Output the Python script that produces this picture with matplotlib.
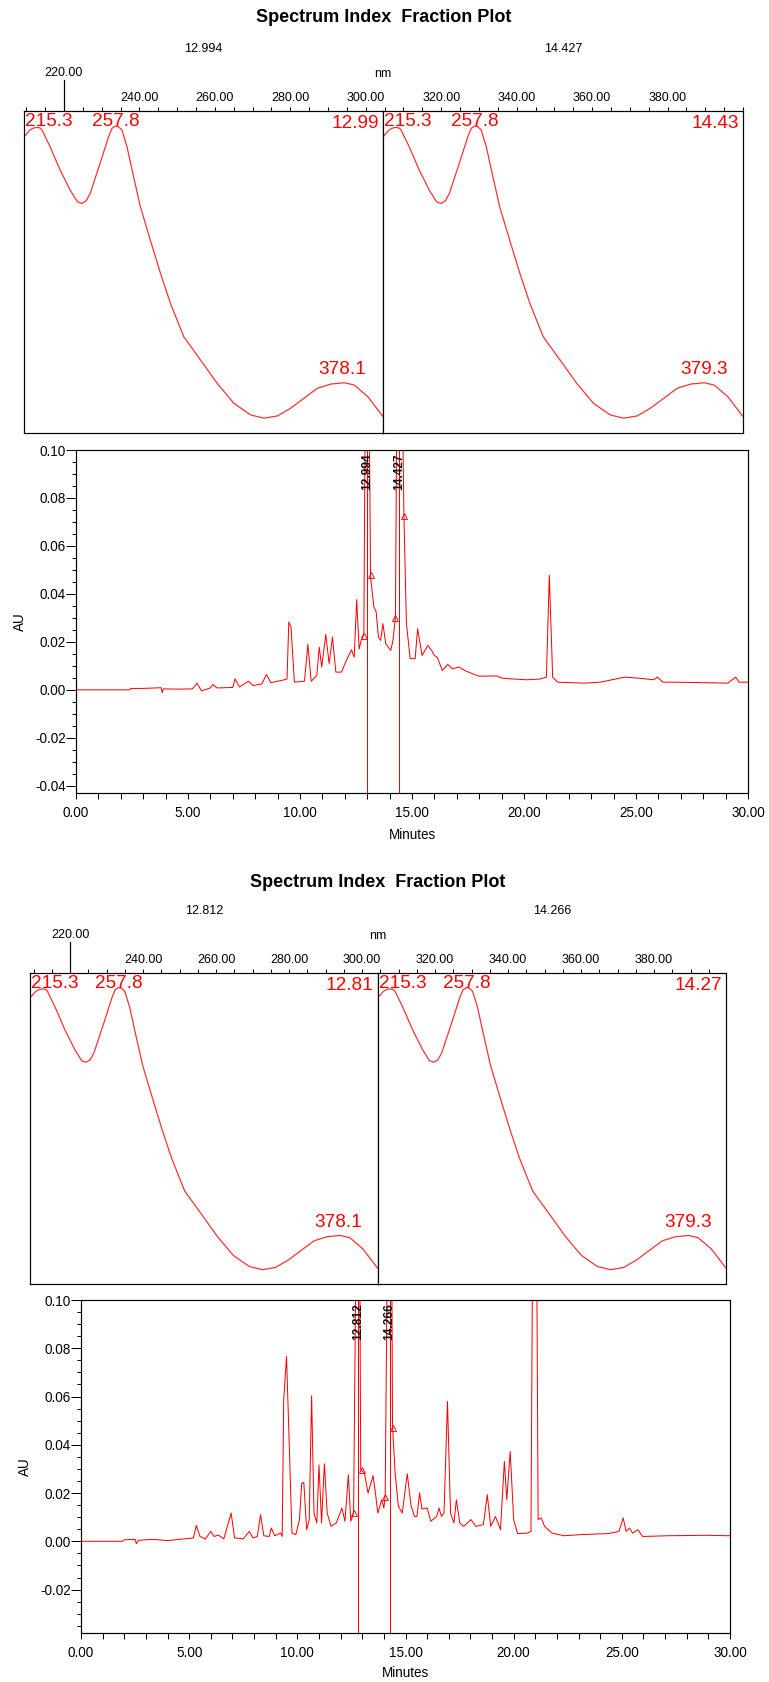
import numpy as np
import matplotlib
matplotlib.use('Agg')
import matplotlib.pyplot as plt
from matplotlib.ticker import MultipleLocator, FixedLocator, FormatStrFormatter

plt.rcParams['font.family'] = ['Liberation Sans', 'DejaVu Sans']
plt.rcParams['axes.unicode_minus'] = False

# UV spectrum shown in every spectrum panel (relative absorbance)
spec_nm = [209.0, 212.2, 214.0, 215.8, 217.2, 218.4, 222.9, 228.2, 233.5, 237.4,
           239.8, 242.1, 244.2, 249.5, 254.0, 255.8, 257.6, 259.3, 261.1, 263.8,
           267.3, 270.9, 276.2, 281.6, 286.9, 294.0, 302.9, 311.8, 320.7, 329.6,
           336.7, 343.8, 350.9, 358.0, 365.1, 372.3, 379.4, 384.7, 391.9, 400.0]
spec_abs = [0.920, 0.941, 0.947, 0.949, 0.948, 0.943, 0.889, 0.817, 0.755, 0.718,
            0.713, 0.721, 0.744, 0.838, 0.920, 0.946, 0.953, 0.951, 0.941, 0.889,
            0.796, 0.703, 0.599, 0.496, 0.403, 0.299, 0.227, 0.154, 0.092, 0.056,
            0.046, 0.053, 0.077, 0.108, 0.139, 0.152, 0.156, 0.149, 0.113, 0.051]

# block 1
frac1_times = [12.994, 14.427]
frac1_labels = ['12.994', '14.427']
frac1_short = ['12.99', '14.43']
peaks1 = [[215.3, 257.8, 378.1], [215.3, 257.8, 379.3]]
chrom1_t = [0.0, 2.4, 2.45, 3.0, 3.8, 3.85, 3.9, 4.5, 5.2, 5.4, 5.6, 6.0, 6.1, 6.3,
            7.0, 7.1, 7.3, 7.7, 7.9, 8.3, 8.5, 8.7, 9.3, 9.42, 9.5, 9.6, 9.75,
            10.2, 10.35, 10.5, 10.75, 10.86, 10.97, 11.15, 11.3, 11.45, 11.6,
            11.85, 12.07, 12.3, 12.42, 12.53, 12.64, 12.77, 12.85, 12.92, 13.0,
            13.08, 13.15, 13.3, 13.4, 13.5, 13.6, 13.7, 13.83, 14.05, 14.15,
            14.26, 14.33, 14.45, 14.56, 14.64, 14.75, 14.92, 15.14, 15.25, 15.45,
            15.7, 15.88, 16.0, 16.13, 16.35, 16.6, 16.8, 17.1, 17.35, 17.7, 18.0,
            18.8, 19.0, 19.4, 20.1, 20.7, 21.0, 21.13, 21.28, 21.5, 22.7, 23.4,
            24.5, 25.1, 25.8, 25.95, 26.2, 26.8, 29.1, 29.45, 29.6, 30.0]
chrom1_au = [0.0, 0.0, 0.0006, 0.0006, 0.0009, -0.0012, 0.0004, 0.0003, 0.0004,
             0.0028, -0.0004, 0.0008, 0.0022, 0.0008, 0.001, 0.0046, 0.0012,
             0.0036, 0.0018, 0.0025, 0.0064, 0.003, 0.0042, 0.0045, 0.0283, 0.026,
             0.0032, 0.0036, 0.019, 0.0036, 0.006, 0.0178, 0.0095, 0.0231, 0.011,
             0.022, 0.0074, 0.0074, 0.0123, 0.0167, 0.0136, 0.0376, 0.017, 0.022,
             0.0234, 0.13, 0.2, 0.13, 0.047, 0.0345, 0.0325, 0.022, 0.0206,
             0.0276, 0.0192, 0.0164, 0.0206, 0.0304, 0.13, 0.2, 0.13, 0.0724,
             0.0276, 0.013, 0.013, 0.0255, 0.0143, 0.0185, 0.0164, 0.0143, 0.0136,
             0.0081, 0.0106, 0.0088, 0.0095, 0.0081, 0.0067, 0.0057, 0.0058,
             0.0049, 0.0046, 0.0042, 0.0045, 0.0053, 0.0478, 0.0053, 0.0032,
             0.0028, 0.0032, 0.0053, 0.0049, 0.0042, 0.0053, 0.0032, 0.0032,
             0.0028, 0.0053, 0.0032, 0.0032]
marks1_t = [12.84, 13.17, 14.26, 14.64]
marks1_au = [0.0223, 0.048, 0.030, 0.0724]

# block 2
frac2_times = [12.812, 14.266]
frac2_labels = ['12.812', '14.266']
frac2_short = ['12.81', '14.27']
peaks2 = [[215.3, 257.8, 378.1], [215.3, 257.8, 379.3]]
chrom2_t = [0.0, 1.9, 2.0, 2.5, 2.56, 2.65, 3.3, 4.0, 5.2, 5.33, 5.5, 5.75, 6.0,
            6.15, 6.35, 6.6, 6.94, 7.1, 7.5, 7.78, 7.95, 8.15, 8.3, 8.45, 8.7,
            8.8, 8.95, 9.23, 9.3, 9.37, 9.5, 9.63, 9.75, 9.93, 10.1, 10.2, 10.3,
            10.43, 10.55, 10.66, 10.77, 10.9, 11.0, 11.12, 11.25, 11.38, 11.56,
            11.8, 12.06, 12.2, 12.36, 12.47, 12.6, 12.72, 12.8, 12.88, 12.93,
            13.1, 13.27, 13.5, 13.61, 13.72, 13.9, 14.0, 14.06, 14.17, 14.29,
            14.36, 14.4, 14.52, 14.67, 14.85, 15.08, 15.26, 15.42, 15.53, 15.65,
            15.76, 16.0, 16.17, 16.44, 16.55, 16.66, 16.78, 16.94, 17.08, 17.24,
            17.35, 17.51, 17.69, 18.03, 18.25, 18.6, 18.78, 18.94, 19.16, 19.39,
            19.57, 19.68, 19.84, 20.0, 20.18, 20.63, 20.8, 20.88, 20.96, 21.06,
            21.13, 21.27, 21.43, 21.77, 22.33, 23.13, 24.38, 24.87, 25.06, 25.2,
            25.35, 25.5, 25.74, 25.96, 27.1, 28.9, 30.0]
chrom2_au = [0.0, 0.0, 0.0006, 0.0008, -0.001, 0.0004, 0.0008, 0.0003, 0.0014,
             0.0066, 0.002, 0.001, 0.0041, 0.002, 0.0026, 0.001, 0.0117, 0.0014,
             0.001, 0.0041, 0.0014, 0.002, 0.011, 0.0023, 0.002, 0.0055, 0.0023,
             0.0034, 0.002, 0.0586, 0.0766, 0.039, 0.0034, 0.0028, 0.009, 0.024,
             0.0244, 0.0048, 0.009, 0.0603, 0.0117, 0.0076, 0.0317, 0.0076,
             0.0321, 0.0117, 0.0062, 0.0076, 0.0138, 0.0083, 0.0276, 0.0083,
             0.0117, 0.13, 0.2, 0.13, 0.0297, 0.0283, 0.020, 0.0272, 0.020,
             0.0117, 0.0172, 0.0138, 0.0186, 0.13, 0.2, 0.13, 0.0476, 0.0283,
             0.0145, 0.0117, 0.028, 0.0145, 0.0103, 0.0103, 0.020, 0.0134, 0.0138,
             0.0083, 0.0103, 0.0138, 0.0103, 0.0117, 0.058, 0.0117, 0.0076,
             0.0172, 0.0076, 0.0062, 0.009, 0.0062, 0.0069, 0.0193, 0.0062,
             0.0103, 0.0048, 0.0331, 0.0172, 0.0372, 0.009, 0.0032, 0.0034,
             0.0041, 0.13, 0.2, 0.13, 0.009, 0.0097, 0.0062, 0.0034, 0.0023,
             0.0028, 0.0032, 0.0041, 0.0097, 0.0041, 0.0055, 0.0034, 0.0048,
             0.002, 0.0023, 0.0025, 0.0023]
marks2_t = [12.63, 12.97, 14.06, 14.40]
marks2_au = [0.0117, 0.0297, 0.0183, 0.0469]

W, H = 769, 1682
fig = plt.figure(figsize=(W / 72, H / 72), dpi=72)


def add_box(x0, y0, x1, y1):
    # pixel box (top-left origin) -> figure axes
    return fig.add_axes([x0 / W, 1 - y1 / H, (x1 - x0) / W, (y1 - y0) / H])


def draw_block(lay, times, labels, short, peaks, t, au, mk_t, mk_au):
    left, mid, right, top, bot = lay['left'], lay['mid'], lay['right'], lay['top'], lay['bot']
    fig.text((left + right) / 2 / W, 1 - lay['title_y'] / H, 'Spectrum Index  Fraction Plot',
             ha='center', va='center', fontsize=18, fontweight='bold')

    # wavelength axis across both spectrum panels
    nm_ax = add_box(left, top, right, bot)
    nm_ax.set_xlim(lay['nm_lim'])
    nm_ax.set_ylim(0, 1)
    nm_ax.set_yticks([])
    for s in ['left', 'right', 'bottom']:
        nm_ax.spines[s].set_visible(False)
    nm_ax.xaxis.set_major_locator(FixedLocator(list(range(240, 381, 20))))
    nm_ax.xaxis.set_minor_locator(MultipleLocator(5))
    nm_ax.xaxis.set_major_formatter(FormatStrFormatter('%.2f'))
    nm_ax.tick_params(axis='x', which='both', top=True, labeltop=True, bottom=False,
                      labelbottom=False, direction='out', length=4, width=1, pad=3,
                      labelsize=12.5)
    h = bot - top
    trans = nm_ax.get_xaxis_transform()
    nm_ax.plot([220, 220], [1, 1 + 31 / h], transform=trans, clip_on=False, color='black', lw=1.2)
    nm_ax.text(220, 1 + 38 / h, '220.00', transform=trans, ha='center', va='center', fontsize=12.5)
    fig.text(mid / W, 1 - (top - 37) / H, 'nm', ha='center', va='center', fontsize=12.5)

    for i, (x0, x1) in enumerate([(left, mid), (mid, right)]):
        ax = add_box(x0, top, x1, bot)
        ax.plot(spec_nm, spec_abs, color='#ff2a2a', lw=1.2)
        ax.set_xlim(209, 400)
        ax.set_ylim(0, 1)
        ax.set_xticks([])
        ax.set_yticks([])
        for s in ax.spines.values():
            s.set_linewidth(1.2)
        fig.text((x0 + x1) / 2 / W, 1 - (top - 62) / H, labels[i], ha='center', va='center',
                 fontsize=12.5)
        p0, p1, p2 = peaks[i]
        ax.annotate(f'{p0}', xy=(0, 1), xycoords='axes fraction', xytext=(1, -2),
                    textcoords='offset points', ha='left', va='top', color='red', fontsize=19)
        ax.annotate(f'{p1}', xy=(p1, 1), xycoords=('data', 'axes fraction'), xytext=(0, -2),
                    textcoords='offset points', ha='center', va='top', color='red', fontsize=19)
        ax.annotate(f'{p2}', xy=(p2, np.interp(p2, spec_nm, spec_abs)), xytext=(0, 5),
                    textcoords='offset points', ha='center', va='bottom', color='red', fontsize=19)
        ax.annotate(short[i], xy=(1, 1), xycoords='axes fraction', xytext=(-4, -4),
                    textcoords='offset points', ha='right', va='top', color='red', fontsize=19)

    # chromatogram
    cax = add_box(lay['c_left'], lay['c_top'], lay['c_right'], lay['c_bot'])
    cax.plot(t, au, color='red', lw=1)
    cax.plot(mk_t, mk_au, linestyle='none', marker='^', markersize=6, mfc='none',
             mec='red', mew=0.9)
    for tt, lab in zip(times, labels):
        cax.axvline(tt, color='red', lw=1)
        cax.annotate(lab, xy=(tt, 1), xycoords=('data', 'axes fraction'), xytext=(0, -3),
                     textcoords='offset points', rotation=90, ha='center', va='top',
                     fontsize=12, fontweight='bold', color='#111111')
    cax.set_xlim(0, 30)
    cax.set_ylim(lay['c_ylo'], 0.10)
    cax.xaxis.set_major_locator(MultipleLocator(5))
    cax.xaxis.set_minor_locator(MultipleLocator(1))
    cax.yaxis.set_major_locator(MultipleLocator(0.02))
    cax.yaxis.set_minor_locator(MultipleLocator(0.005))
    cax.xaxis.set_major_formatter(FormatStrFormatter('%.2f'))
    cax.yaxis.set_major_formatter(FormatStrFormatter('%.2f'))
    cax.tick_params(axis='x', which='both', direction='out', length=6, width=1, pad=7,
                    labelsize=13.5)
    cax.tick_params(axis='y', which='major', direction='out', length=10, width=1, pad=0,
                    labelsize=13.5)
    cax.tick_params(axis='y', which='minor', direction='out', length=4, width=1)
    for s in cax.spines.values():
        s.set_linewidth(1.2)
    cax.set_xlabel('Minutes', fontsize=13.5)
    cax.set_ylabel('AU', fontsize=13.5)
    cw = lay['c_right'] - lay['c_left']
    ch = lay['c_bot'] - lay['c_top']
    cax.xaxis.set_label_coords(0.5, (lay['c_bot'] - lay['xlab_y']) / ch)
    cax.xaxis.label.set_va('center')
    cax.yaxis.set_label_coords((lay['ylab_x'] - lay['c_left']) / cw, 0.5)
    cax.yaxis.label.set_va('center')


layout1 = dict(title_y=18, left=24, mid=383, right=743, top=111, bot=433,
               nm_lim=(209.4, 400.0), c_left=76, c_right=748, c_top=450, c_bot=793,
               c_ylo=-0.043, xlab_y=835, ylab_x=20)
layout2 = dict(title_y=883, left=30, mid=377.6, right=726, top=973, bot=1284,
               nm_lim=(209.0, 399.7), c_left=81, c_right=730, c_top=1300, c_bot=1633,
               c_ylo=-0.038, xlab_y=1673, ylab_x=25)

draw_block(layout1, frac1_times, frac1_labels, frac1_short, peaks1, chrom1_t, chrom1_au,
           marks1_t, marks1_au)
draw_block(layout2, frac2_times, frac2_labels, frac2_short, peaks2, chrom2_t, chrom2_au,
           marks2_t, marks2_au)

fig.savefig('out.png', dpi=72)
